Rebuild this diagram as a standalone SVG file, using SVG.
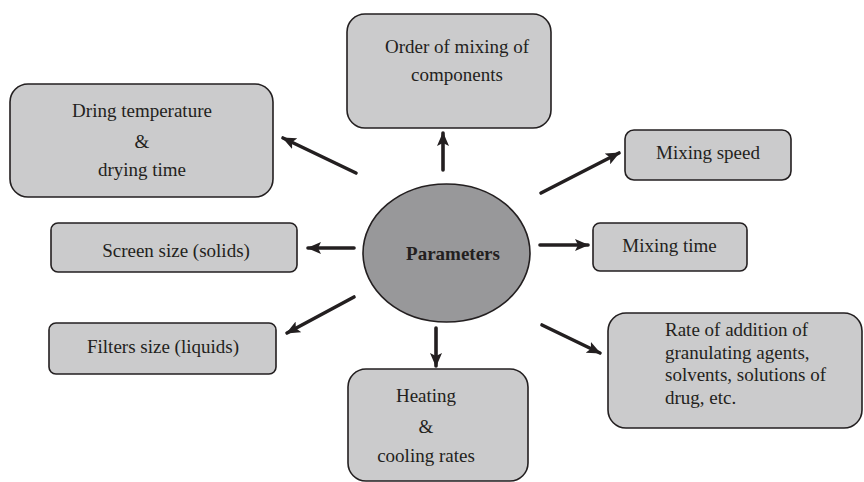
<svg xmlns="http://www.w3.org/2000/svg" width="864" height="482" viewBox="0 0 864 482">
<style>
.box{fill:#cbcbcc;stroke:#231f20;stroke-width:1.6}
.hub{fill:#98989a;stroke:#231f20;stroke-width:1.6}
text{font-family:'Liberation Serif','Times New Roman','DejaVu Serif',serif;font-size:19px;fill:#231f20}
.c{text-anchor:middle}
.b{font-weight:bold}
.arr{stroke:#231f20;stroke-width:3.6;stroke-linecap:round;fill:none;marker-end:url(#ah)}
</style>
<defs>
<marker id="ah" markerUnits="userSpaceOnUse" viewBox="0 0 14 12" refX="13" refY="6" markerWidth="14" markerHeight="12" orient="auto">
<path d="M0,0 L14,6 L0,12 L3,6 Z" fill="#231f20"/>
</marker>
</defs>
<rect width="864" height="482" fill="#ffffff"/>
<g id="connectors">
<line class="arr" x1="443" y1="170" x2="443" y2="133"/>
<line class="arr" x1="356" y1="173" x2="283" y2="138"/>
<line class="arr" x1="541" y1="193" x2="619" y2="153"/>
<line class="arr" x1="540" y1="245" x2="588" y2="245"/>
<line class="arr" x1="354" y1="248" x2="308" y2="248"/>
<line class="arr" x1="354" y1="297" x2="287" y2="333"/>
<line class="arr" x1="436" y1="328" x2="436" y2="366"/>
<line class="arr" x1="542" y1="325" x2="600" y2="353"/>
</g>
<g id="parameters">
<ellipse class="hub" cx="446.5" cy="253" rx="83.5" ry="69"/>
<text class="c b" x="453" y="260" font-family="Liberation Serif, serif">Parameters</text>
</g>
<g id="order-mixing">
<rect class="box" x="347" y="14" width="204" height="114" rx="18"/>
<text class="c" x="457" y="53">Order of mixing of</text>
<text class="c" x="457" y="81">components</text>
</g>
<g id="drying">
<rect class="box" x="10" y="84" width="263" height="113" rx="18"/>
<text class="c" x="142" y="117">Dring temperature</text>
<text class="c" x="142" y="148">&amp;</text>
<text class="c" x="142" y="176">drying time</text>
</g>
<g id="mixing-speed">
<rect class="box" x="625" y="130" width="166" height="50" rx="9"/>
<text class="c" x="708" y="159">Mixing speed</text>
</g>
<g id="mixing-time">
<rect class="box" x="593" y="223" width="154" height="48" rx="7"/>
<text class="c" x="669.5" y="252">Mixing time</text>
</g>
<g id="screen-size">
<rect class="box" x="51" y="223" width="246" height="49" rx="7"/>
<text class="c" x="176" y="257">Screen size (solids)</text>
</g>
<g id="filters-size">
<rect class="box" x="49" y="323" width="227" height="51" rx="7"/>
<text class="c" x="163" y="353">Filters size (liquids)</text>
</g>
<g id="heating">
<rect class="box" x="348" y="369" width="180" height="112" rx="18"/>
<text class="c" x="426" y="402">Heating</text>
<text class="c" x="426" y="433">&amp;</text>
<text class="c" x="426" y="462">cooling rates</text>
</g>
<g id="rate-addition">
<rect class="box" x="608" y="313" width="254" height="115" rx="18"/>
<text x="665" y="336">Rate of addition of</text>
<text x="665" y="359">granulating agents,</text>
<text x="665" y="381">solvents, solutions of</text>
<text x="665" y="404">drug, etc.</text>
</g>
</svg>
